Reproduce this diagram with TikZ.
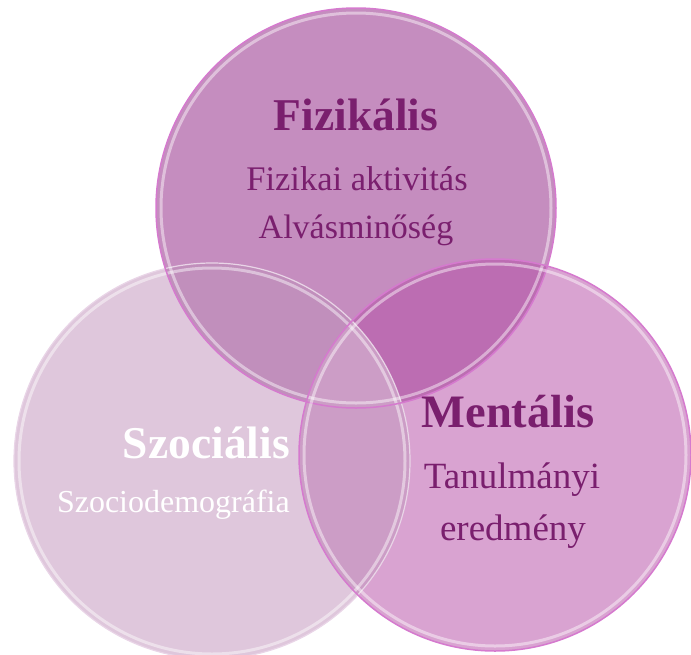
\documentclass[tikz,border=0pt]{standalone}
\usepackage{fontspec}
\setmainfont{Liberation Serif}
\definecolor{tonly}{HTML}{C58DBF}
\definecolor{ronly}{HTML}{D9A3D1}
\definecolor{lonly}{HTML}{DFC7DC}
\definecolor{tr}{HTML}{BC6DB2}
\definecolor{tl}{HTML}{C18FBC}
\definecolor{lr}{HTML}{CC9DC6}
\definecolor{tlr}{HTML}{BC7EB4}
\definecolor{txt}{HTML}{7A1F6E}
\definecolor{rimM}{HTML}{D57ACE}
\definecolor{rimL}{HTML}{E9D5E7}
\tikzset{
  title/.style={font=\bfseries\fontsize{45.5}{48}\selectfont, text=txt, inner sep=0pt, anchor=base},
  sub/.style={font=\fontsize{35}{40}\selectfont, text=txt, inner sep=0pt, anchor=base},
  hl/.style={draw=white, draw opacity=0.45, line width=3pt},
}
\begin{document}
\begin{tikzpicture}[x=1pt,y=-1pt]
\useasboundingbox (0,0) rectangle (691,654);
\coordinate (T) at (356,208);
\coordinate (L) at (212,461);
\coordinate (R) at (495,455);
\def\rT{200pt}\def\rL{198pt}\def\rR{196pt}
% base fills
\fill[lonly] (L) circle[radius=\rL];
\fill[ronly] (R) circle[radius=\rR];
\fill[tonly] (T) circle[radius=\rT];
% intersections
\begin{scope}
  \clip (T) circle[radius=\rT];
  \fill[tr] (R) circle[radius=\rR];
  \fill[tl] (L) circle[radius=\rL];
  \clip (L) circle[radius=\rL];
  \fill[tlr] (R) circle[radius=\rR];
\end{scope}
\begin{scope}
  \clip (L) circle[radius=\rL];
  \clip (T) circle[radius=\rT] -- cycle (-10,-10) rectangle (700,700);
  \fill[lr,even odd rule] (R) circle[radius=\rR];
\end{scope}
% rims
\draw[rimL, line width=1.2pt] (L) circle[radius=\rL];
\draw[hl] (L) circle[radius=193pt];
\draw[rimM, line width=1.5pt] (T) circle[radius=\rT];
\draw[hl] (T) circle[radius=195pt];
\draw[rimM, line width=1.5pt] (R) circle[radius=\rR];
\draw[hl] (R) circle[radius=191pt];
% texts
\node[title] (fiz) at (356,130) {Fizikális};
\node[sub, font=\fontsize{34.5}{40}\selectfont] (fiz1) at (357,190) {Fizikai aktivitás};
\node[sub, font=\fontsize{34}{40}\selectfont] (fiz2) at (356,238) {Alvásminőség};
\node[title, text=white, anchor=base east] (szo) at (290,458) {Szociális};
\node[sub, text=white, anchor=base east, font=\fontsize{32}{40}\selectfont] (szo1) at (290,512) {Szociodemográfia};
\node[title, font=\bfseries\fontsize{46.5}{48}\selectfont] (men) at (508,427) {Mentális};
\node[sub, font=\fontsize{37}{40}\selectfont] (men1) at (512,488) {Tanulmányi};
\node[sub, font=\fontsize{37}{40}\selectfont] (men2) at (513,540) {eredmény};
\end{tikzpicture}
\end{document}
